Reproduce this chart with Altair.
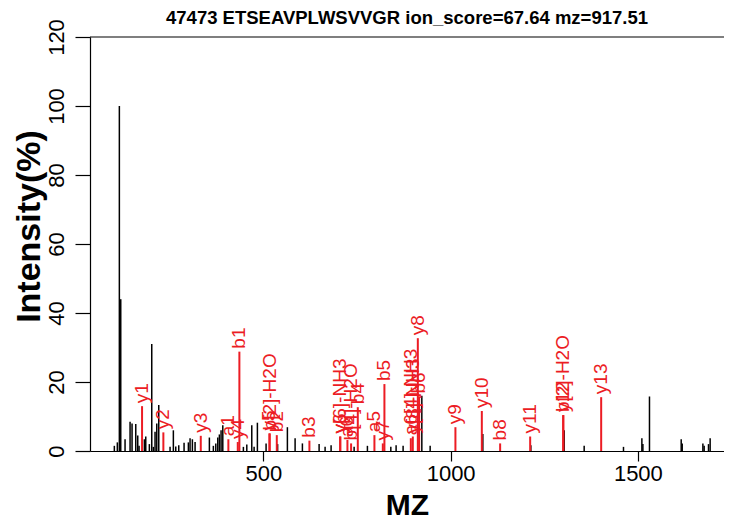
import altair as alt
import pandas as pd

# unannotated peaks (m/z, relative intensity %)
black_mz = [102, 110, 115.4, 119.1, 130.6, 144, 149.3, 159.2, 164.5, 168,
            182.2, 185.9, 195.5, 201.9, 206.2, 210.7, 215.3, 220.6, 250.8, 259.6,
            266, 274, 288.2, 299.7, 304.2, 310.4, 317.6, 355.8, 366.4, 372.9,
            378.2, 382.5, 387, 391.6, 446.6, 455.7, 469, 475.2, 484, 507.2,
            538, 564.1, 584.7, 604.2, 648.8, 664.8, 680.8, 742.3, 777.8, 840.3,
            854.4, 873.1, 923.1, 945.3, 1086, 1214.2, 1303.2, 1356.6, 1461.6, 1510.7,
            1513.4, 1531, 1615.7, 1618.4, 1673.6, 1677, 1688.6, 1693]
black_int = [1.5, 2.5, 100, 44, 3.4, 8.5, 8, 7.8, 4.5, 1.5,
             3.4, 4.2, 2, 31, 1.2, 5.6, 8, 13.3, 1.2, 6,
             1.3, 1.7, 2.4, 2.5, 3.7, 3.4, 2.6, 3.9, 1.5, 2.2,
             3.9, 4.8, 6, 7.5, 1.2, 1.9, 7.5, 1.2, 8.2, 2.2,
             2, 6.9, 3.7, 2.2, 2, 1.2, 1.7, 1.2, 1.5, 1.2,
             1.7, 1.5, 16, 1.5, 4.9, 1.7, 6, 1.5, 1.2, 3.7,
             2, 15.8, 3.4, 2.2, 2.2, 1.5, 2, 3.7]

# annotated peaks
red_mz = [176, 232.9, 332.8, 406.5, 431.6, 435.9, 516, 517, 535.8, 622.9,
          704.9, 705.5, 724.4, 734.2, 752.1, 796.5, 818.9, 823.2, 893.7, 899,
          912.4, 915.9, 1012.8, 1083.3, 1132.2, 1212.4, 1300.5, 1301, 1402]
red_int = [13, 5.4, 4.4, 3.4, 2.6, 28.8, 5.1, 5.1, 4.6, 3,
           4.2, 4.2, 3.2, 2.2, 12.7, 4.6, 2.2, 19.4, 3.7, 4.2,
           32.7, 15.8, 6.9, 11.6, 2.2, 4.2, 10.4, 10.4, 15.6]
red_lab = ["y1", "y2", "y3", "a1", "y4", "b1", "y5", "b[2]-H2O", "b2", "b3",
           "y6", "y[6]-NH3", "a6", "b[4]-H2O", "b4", "a5", "y7", "b5", "a6[4]-NH3", "y[8]-NH3",
           "y8", "b6", "y9", "y10", "b8", "y11", "y12", "b[2]-H2O", "y13"]

x_ticks = [500, 1000, 1500]
y_ticks = [0, 20, 40, 60, 80, 100, 120]

FONT = "Liberation Sans"
RED = "#EC1C24"

black_df = pd.DataFrame({"mz": black_mz, "inten": black_int, "zero": 0})
red_df = pd.DataFrame({"mz": red_mz, "inten": red_int, "label": red_lab, "zero": 0})

xscale = alt.Scale(domain=[37, 1730], nice=False, zero=False)
yscale = alt.Scale(domain=[0, 120], nice=False)

xaxis = alt.Axis(values=x_ticks, format="d", title="MZ", grid=False, domainColor="black",
                 domainWidth=1.2, tickColor="black", tickWidth=1.2, tickSize=10,
                 labelFont=FONT, labelFontSize=22, labelColor="black", labelPadding=2,
                 titleFont=FONT, titleFontSize=30, titleFontWeight="bold", titleColor="black",
                 titleY=63, titleBaseline="alphabetic")
yaxis = alt.Axis(values=y_ticks, format="d", title="Intensity(%)", grid=False, domainColor="black",
                 domainWidth=1.2, tickColor="black", tickWidth=1.2, tickSize=15,
                 labelFont=FONT, labelFontSize=22, labelColor="black", labelAngle=270,
                 labelAlign="center", labelBaseline="alphabetic", labelPadding=12,
                 titleFont=FONT, titleFontSize=34, titleFontWeight="bold", titleColor="black",
                 titleAngle=270, titleX=-51, titleY=189, titleAlign="center",
                 titleBaseline="alphabetic")

black = alt.Chart(black_df).mark_rule(color="black", strokeWidth=1.5).encode(
    x=alt.X("mz:Q", scale=xscale, axis=xaxis),
    y=alt.Y("zero:Q", scale=yscale, axis=yaxis),
    y2="inten:Q",
)
red = alt.Chart(red_df).mark_rule(color=RED, strokeWidth=2).encode(
    x=alt.X("mz:Q", scale=xscale),
    y=alt.Y("zero:Q", scale=yscale),
    y2="inten:Q",
)
labels = alt.Chart(red_df).mark_text(
    color=RED, font=FONT, fontSize=19, angle=270, align="left", baseline="middle", dx=3
).encode(
    x=alt.X("mz:Q", scale=xscale),
    y=alt.Y("inten:Q", scale=yscale),
    text="label:N",
)
top_line = alt.Chart(pd.DataFrame({"top": [120]})).mark_rule(
    color="black", strokeWidth=1.2).encode(y=alt.Y("top:Q", scale=yscale))

chart = alt.layer(black, red, labels, top_line).properties(
    width=634, height=414,
    title=alt.TitleParams("47473 ETSEAVPLWSVVGR ion_score=67.64 mz=917.51",
                          font=FONT, fontSize=18.5, fontWeight="bold", color="black",
                          anchor="middle", frame="group", offset=-9),
    padding={"left": 82, "top": 29, "right": 0, "bottom": 70},
    autosize=alt.AutoSizeParams(type="none"),
).configure_view(stroke=None)

chart.save("out.html", embed_options={"renderer": "svg", "actions": False})
